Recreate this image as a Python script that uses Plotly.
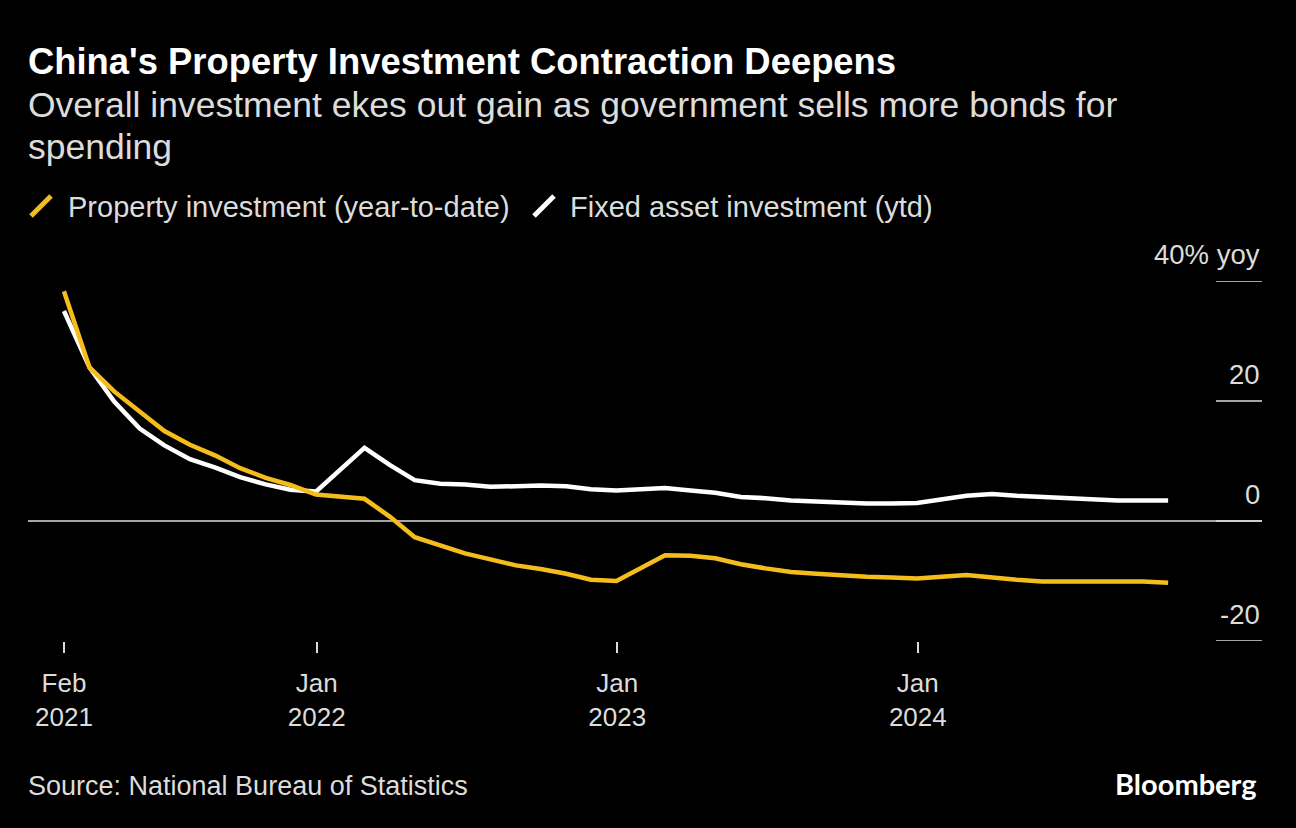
import pandas as pd
import plotly.graph_objects as go

# ---- data (year-to-date % yoy, China NBS) ----
months = [
    "2021-02", "2021-03", "2021-04", "2021-05", "2021-06", "2021-07", "2021-08", "2021-09", "2021-10", "2021-11", "2021-12",
    "2022-02", "2022-03", "2022-04", "2022-05", "2022-06", "2022-07", "2022-08", "2022-09", "2022-10", "2022-11", "2022-12",
    "2023-02", "2023-03", "2023-04", "2023-05", "2023-06", "2023-07", "2023-08", "2023-09", "2023-10", "2023-11", "2023-12",
    "2024-02", "2024-03", "2024-04", "2024-05", "2024-06", "2024-07", "2024-08", "2024-09", "2024-10",
]
property_inv = [
    38.3, 25.6, 21.6, 18.3, 15.0, 12.7, 10.9, 8.8, 7.2, 6.0, 4.4,
    3.7, 0.7, -2.7, -4.0, -5.4, -6.4, -7.4, -8.0, -8.8, -9.8, -10.0,
    -5.7, -5.8, -6.2, -7.2, -7.9, -8.5, -8.8, -9.1, -9.3, -9.4, -9.6,
    -9.0, -9.5, -9.8, -10.1, -10.1, -10.2, -10.2, -10.1, -10.3,
]
fixed_asset_inv = [
    35.0, 25.6, 19.9, 15.4, 12.6, 10.3, 8.9, 7.3, 6.1, 5.2, 4.9,
    12.2, 9.3, 6.8, 6.2, 6.1, 5.7, 5.8, 5.9, 5.8, 5.3, 5.1,
    5.5, 5.1, 4.7, 4.0, 3.8, 3.4, 3.2, 3.1, 2.9, 2.9, 3.0,
    4.2, 4.5, 4.2, 4.0, 3.9, 3.6, 3.4, 3.4, 3.4,
]
series_names = ["Property investment (year-to-date)", "Fixed asset investment (ytd)"]
x_tick_vals = ["2021-02-28", "2022-01-01", "2023-01-01", "2024-01-01"]
x_tick_text = ["Feb<br>2021", "Jan<br>2022", "Jan<br>2023", "Jan<br>2024"]
y_tick_vals = [-20, 0, 20, 40]
y_tick_text = ["-20", "0", "20", "40% yoy"]

title = "China's Property Investment Contraction Deepens"
subtitle_1 = "Overall investment ekes out gain as government sells more bonds for"
subtitle_2 = "spending"
source = "Source: National Bureau of Statistics"

# ---- styling ----
W, H = 1296, 828
L, R, T, B = 28, 1262, 281, 641   # plot area in pixels
YELLOW = "#F5BD1C"
WHITE = "#FFFFFF"
LIGHT = "#DCDCDC"
FONT = "Liberation Sans, Arial, Helvetica, sans-serif"


def px(x):
    return (x - L) / (R - L)


def py(y):
    return (B - y) / (B - T)


dates = (pd.PeriodIndex(months, freq="M").to_timestamp(how="end")).normalize()

fig = go.Figure()
fig.add_trace(go.Scatter(x=dates, y=fixed_asset_inv, mode="lines", name=series_names[1],
                         line=dict(color=WHITE, width=4.5), showlegend=False))
fig.add_trace(go.Scatter(x=dates, y=property_inv, mode="lines", name=series_names[0],
                         line=dict(color=YELLOW, width=4.5), showlegend=False))

shapes = []
# short gridline segments at right
for v in y_tick_vals:
    shapes.append(dict(type="line", xref="paper", yref="y", x0=px(1216), x1=1, y0=v, y1=v,
                       line=dict(color=LIGHT, width=1.5), layer="below"))
# zero line
shapes.append(dict(type="line", xref="paper", yref="y", x0=0, x1=1, y0=0, y1=0,
                   line=dict(color=LIGHT, width=1.5), layer="below"))
# legend strokes
for (x0, colr) in [(31, YELLOW), (534, WHITE)]:
    shapes.append(dict(type="line", xref="paper", yref="paper",
                       x0=px(x0), x1=px(x0 + 20), y0=py(216), y1=py(196),
                       line=dict(color=colr, width=5)))

annotations = [
    dict(text=f"<b>{title}</b>", x=0, y=py(62), xref="paper", yref="paper", xanchor="left", yanchor="middle",
         xshift=-2, showarrow=False, font=dict(family=FONT, size=36.4, color=WHITE)),
    dict(text=subtitle_1, x=0, y=py(105), xref="paper", yref="paper", xanchor="left", yanchor="middle",
         xshift=-2, showarrow=False, font=dict(family=FONT, size=35.5, color=LIGHT)),
    dict(text=subtitle_2, x=0, y=py(147), xref="paper", yref="paper", xanchor="left", yanchor="middle",
         xshift=-2, showarrow=False, font=dict(family=FONT, size=35.5, color=LIGHT)),
    dict(text=series_names[0], x=px(66), y=py(207), xref="paper", yref="paper", xanchor="left", yanchor="middle",
         showarrow=False, font=dict(family=FONT, size=29, color=LIGHT)),
    dict(text=series_names[1], x=px(568), y=py(207), xref="paper", yref="paper", xanchor="left", yanchor="middle",
         showarrow=False, font=dict(family=FONT, size=29, color=LIGHT)),
    dict(text=source, x=0, y=py(786), xref="paper", yref="paper", xanchor="left", yanchor="middle",
         xshift=-2, showarrow=False, font=dict(family=FONT, size=27, color=LIGHT)),
    dict(text="<b>Bloomberg</b>", x=px(1259), y=py(783), xref="paper", yref="paper", xanchor="right",
         yanchor="middle", showarrow=False, font=dict(family="Lato, Open Sans, sans-serif", size=29, color=WHITE)),
]
for v, t in zip(y_tick_vals, y_tick_text):
    annotations.append(dict(text=t, x=1, y=v, xref="paper", yref="y", xanchor="right", yanchor="bottom",
                            yshift=9, showarrow=False, font=dict(family=FONT, size=27.5, color=LIGHT)))

fig.update_layout(
    width=W, height=H,
    margin=dict(l=L, r=W - R, t=T, b=H - B, pad=0),
    paper_bgcolor="#000000", plot_bgcolor="#000000",
    font=dict(family=FONT, color=LIGHT, size=24),
    showlegend=False,
    shapes=shapes,
    annotations=annotations,
    xaxis=dict(
        type="date",
        range=["2021-01-15 08:00", "2025-02-22"],
        tickvals=x_tick_vals, ticktext=x_tick_text,
        ticks="outside", ticklen=11, tickwidth=1.5, tickcolor=LIGHT,
        ticklabelstandoff=8,
        showgrid=False, zeroline=False, showline=False,
        tickfont=dict(family=FONT, size=26, color=LIGHT),
        fixedrange=True,
    ),
    yaxis=dict(
        range=[-20, 40], showticklabels=False, showgrid=False, zeroline=False,
        showline=False, ticks="", fixedrange=True,
    ),
)

fig.write_html("out.html", config={"displayModeBar": False},
               post_script="document.body.style.margin='0';document.body.style.background='#000';")
